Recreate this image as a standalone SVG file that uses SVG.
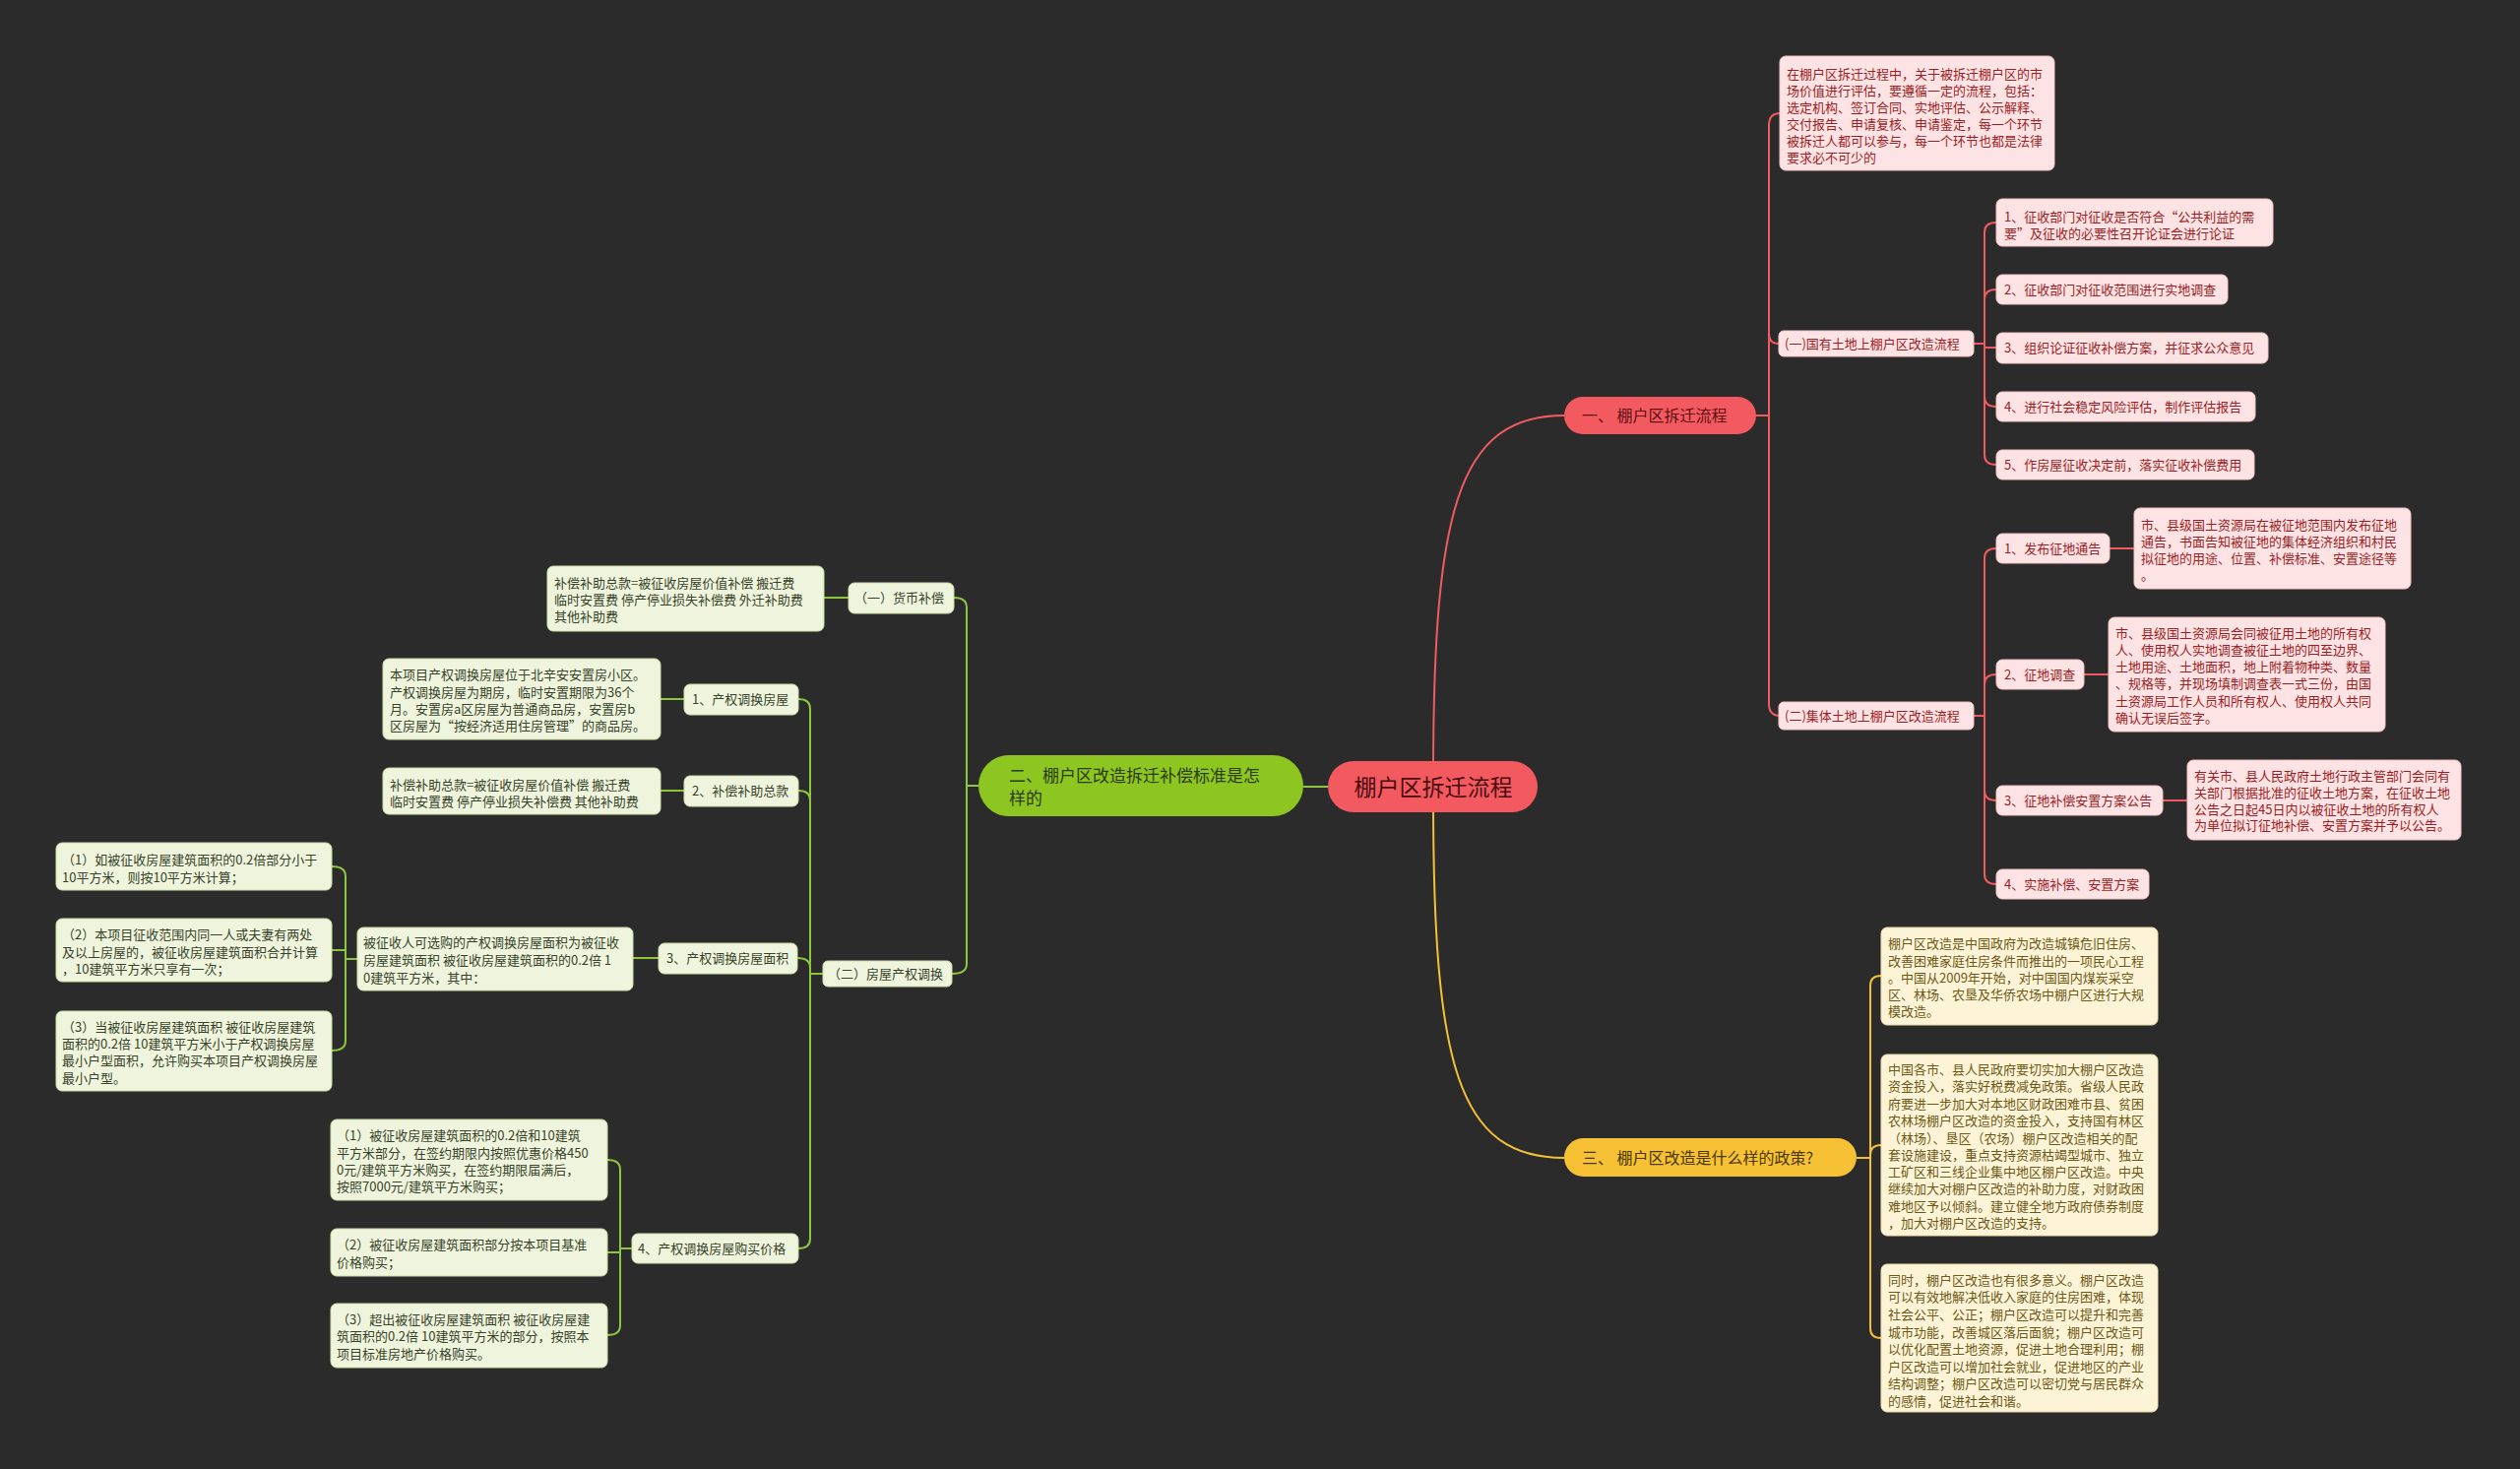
<svg xmlns="http://www.w3.org/2000/svg" width="2560" height="1492" viewBox="0 0 2560 1492">
<style>
text{font-family:"Noto Sans CJK SC","Noto Sans",sans-serif;font-size:13px}
.bg{fill:#2b2b2b}
.pk rect{fill:#fde3e3;stroke:#f3c4c6;stroke-width:1}
.pk text{fill:#9e1d24}
.gr rect{fill:#eef5dc;stroke:#cfe0a8;stroke-width:1}
.gr text{fill:#38422a}
.yl rect{fill:#fdf4d7;stroke:#ecdca8;stroke-width:1}
.yl text{fill:#6d5816}
.cr{fill:none;stroke:#ef5b61;stroke-width:2}
.cg{fill:none;stroke:#8dc63f;stroke-width:2}
.cy{fill:none;stroke:#f4c134;stroke-width:2}
.main text{font-size:16px}
</style>
<rect class="bg" x="0" y="0" width="2560" height="1492"/>

<g id="connectors">
  <!-- root -->
  <path class="cr" d="M1456,790 C1456,520 1480,422 1589,422" stroke-width="2.5"/>
  <path class="cy" d="M1456,810 C1456,1080 1480,1176 1589,1176" stroke-width="2.5"/>
  <path class="cg" d="M1349,799 H1324" stroke-width="2.5"/>
  <!-- 一 -->
  <path class="cr" d="M1784,422 H1797 V127 Q1797,115 1809,115"/>
  <path class="cr" d="M1784,422 H1797 V339 Q1797,349 1807,349"/>
  <path class="cr" d="M1784,422 H1797 V715 Q1797,727 1809,727"/>
  <!-- (一) -->
  <path class="cr" d="M2005,349 H2016 V236 Q2016,226 2028,226"/>
  <path class="cr" d="M2005,349 H2016 V304 Q2016,294 2028,294"/>
  <path class="cr" d="M2005,349 H2016 V353 H2028"/>
  <path class="cr" d="M2005,349 H2016 V403 Q2016,413 2028,413"/>
  <path class="cr" d="M2005,349 H2016 V462 Q2016,472 2028,472"/>
  <!-- (二) -->
  <path class="cr" d="M2005,727 H2016 V567 Q2016,557 2028,557"/>
  <path class="cr" d="M2005,727 H2016 V695 Q2016,685 2028,685"/>
  <path class="cr" d="M2005,727 H2016 V803 Q2016,813 2028,813"/>
  <path class="cr" d="M2005,727 H2016 V888 Q2016,898 2028,898"/>
  <path class="cr" d="M2143,557 H2168"/>
  <path class="cr" d="M2117,685 H2142"/>
  <path class="cr" d="M2197,813 H2222"/>
  <!-- 三 -->
  <path class="cy" d="M1886,1176 H1900 V1001 Q1900,991 1911,991"/>
  <path class="cy" d="M1886,1176 H1900 V1173 Q1900,1163 1911,1163"/>
  <path class="cy" d="M1886,1176 H1900 V1349 Q1900,1359 1911,1359"/>
  <!-- 二 -->
  <path class="cg" d="M994,798 H982 V617 Q982,607 969,607"/>
  <path class="cg" d="M994,798 H982 V979 Q982,989 967,989"/>
  <path class="cg" d="M862,607 H837"/>
  <path class="cg" d="M836,989 H823 V720 Q823,710 811,710"/>
  <path class="cg" d="M836,989 H823 V813 Q823,803 811,803"/>
  <path class="cg" d="M836,989 H823 V983 Q823,973 810,973"/>
  <path class="cg" d="M836,989 H823 V1258 Q823,1268 811,1268"/>
  <path class="cg" d="M695,710 H671"/>
  <path class="cg" d="M695,803 H671"/>
  <path class="cg" d="M669,973 H643"/>
  <path class="cg" d="M363,974 H351 V890 Q351,880 337,880"/>
  <path class="cg" d="M363,974 H351 V965 H337"/>
  <path class="cg" d="M363,974 H351 V1057 Q351,1067 337,1067"/>
  <path class="cg" d="M642,1268 H630 V1188 Q630,1178 617,1178"/>
  <path class="cg" d="M642,1268 H630 V1272 H617"/>
  <path class="cg" d="M642,1268 H630 V1346 Q630,1356 617,1356"/>
</g>

<g id="root">
  <rect x="1349" y="773" width="213" height="52" rx="26" fill="#f35a60"/>
  <text x="1456" y="808" text-anchor="middle" style="font-size:23px" fill="#4a0c10">棚户区拆迁流程</text>
</g>

<g id="n1" class="main">
  <rect x="1589" y="403" width="195" height="38" rx="19" fill="#f35a60"/>
  <text x="1607" y="428" fill="#5e1015">一、 棚户区拆迁流程</text>
</g>
<g id="n2" class="main">
  <rect x="994" y="767" width="330" height="62" rx="31" fill="#8dc621"/>
  <text x="1025" y="794" style="font-size:17px" fill="#2c3a0c"><tspan>二、棚户区改造拆迁补偿标准是怎</tspan><tspan x="1025" y="817">样的</tspan></text>
</g>
<g id="n3" class="main">
  <rect x="1589" y="1156" width="297" height="39" rx="19.5" fill="#f6c135"/>
  <text x="1607" y="1182" fill="#4a3800">三、 棚户区改造是什么样的政策?</text>
</g>

<!-- right red branch -->
<g id="r-intro" class="pk">
  <rect x="1808" y="57" width="279" height="116" rx="6"/>
  <text x="1815" y="80"><tspan>在棚户区拆迁过程中，关于被拆迁棚户区的市</tspan><tspan x="1815" y="97">场价值进行评估，要遵循一定的流程，包括：</tspan><tspan x="1815" y="114">选定机构、签订合同、实地评估、公示解释、</tspan><tspan x="1815" y="131">交付报告、申请复核、申请鉴定，每一个环节</tspan><tspan x="1815" y="148">被拆迁人都可以参与，每一个环节也都是法律</tspan><tspan x="1815" y="165">要求必不可少的</tspan></text>
</g>
<g id="r-a" class="pk">
  <rect x="1807" y="336" width="198" height="26" rx="5"/>
  <text x="1813" y="354">(一)国有土地上棚户区改造流程</text>
</g>
<g id="r-a1" class="pk">
  <rect x="2028" y="202" width="281" height="48" rx="6"/>
  <text x="2036" y="225"><tspan>1、征收部门对征收是否符合“公共利益的需</tspan><tspan x="2036" y="242">要”及征收的必要性召开论证会进行论证</tspan></text>
</g>
<g id="r-a2" class="pk">
  <rect x="2028" y="279" width="235" height="30" rx="6"/>
  <text x="2036" y="299">2、征收部门对征收范围进行实地调查</text>
</g>
<g id="r-a3" class="pk">
  <rect x="2028" y="338" width="276" height="31" rx="6"/>
  <text x="2036" y="358">3、组织论证征收补偿方案，并征求公众意见</text>
</g>
<g id="r-a4" class="pk">
  <rect x="2028" y="398" width="263" height="30" rx="6"/>
  <text x="2036" y="418">4、进行社会稳定风险评估，制作评估报告</text>
</g>
<g id="r-a5" class="pk">
  <rect x="2028" y="457" width="262" height="30" rx="6"/>
  <text x="2036" y="477">5、作房屋征收决定前，落实征收补偿费用</text>
</g>
<g id="r-b" class="pk">
  <rect x="1807" y="713" width="198" height="28" rx="5"/>
  <text x="1813" y="732">(二)集体土地上棚户区改造流程</text>
</g>
<g id="r-b1" class="pk">
  <rect x="2028" y="542" width="115" height="30" rx="6"/>
  <text x="2036" y="562">1、发布征地通告</text>
</g>
<g id="r-b1t" class="pk">
  <rect x="2168" y="516" width="281" height="82" rx="6"/>
  <text x="2175" y="538"><tspan>市、县级国土资源局在被征地范围内发布征地</tspan><tspan x="2175" y="555">通告，书面告知被征地的集体经济组织和村民</tspan><tspan x="2175" y="572">拟征地的用途、位置、补偿标准、安置途径等</tspan><tspan x="2175" y="589">。</tspan></text>
</g>
<g id="r-b2" class="pk">
  <rect x="2028" y="670" width="89" height="30" rx="6"/>
  <text x="2036" y="690">2、征地调查</text>
</g>
<g id="r-b2t" class="pk">
  <rect x="2142" y="627" width="281" height="116" rx="6"/>
  <text x="2149" y="648"><tspan>市、县级国土资源局会同被征用土地的所有权</tspan><tspan x="2149" y="665">人、使用权人实地调查被征土地的四至边界、</tspan><tspan x="2149" y="682">土地用途、土地面积，地上附着物种类、数量</tspan><tspan x="2149" y="699">、规格等，并现场填制调查表一式三份，由国</tspan><tspan x="2149" y="717">土资源局工作人员和所有权人、使用权人共同</tspan><tspan x="2149" y="734">确认无误后签字。</tspan></text>
</g>
<g id="r-b3" class="pk">
  <rect x="2028" y="798" width="169" height="30" rx="6"/>
  <text x="2036" y="818">3、征地补偿安置方案公告</text>
</g>
<g id="r-b3t" class="pk">
  <rect x="2222" y="772" width="278" height="81" rx="6"/>
  <text x="2229" y="793"><tspan>有关市、县人民政府土地行政主管部门会同有</tspan><tspan x="2229" y="810">关部门根据批准的征收土地方案，在征收土地</tspan><tspan x="2229" y="827">公告之日起45日内以被征收土地的所有权人</tspan><tspan x="2229" y="843">为单位拟订征地补偿、安置方案并予以公告。</tspan></text>
</g>
<g id="r-b4" class="pk">
  <rect x="2028" y="883" width="155" height="30" rx="6"/>
  <text x="2036" y="903">4、实施补偿、安置方案</text>
</g>

<!-- yellow branch -->
<g id="y1" class="yl">
  <rect x="1911" y="942" width="281" height="99" rx="6"/>
  <text x="1918" y="963"><tspan>棚户区改造是中国政府为改造城镇危旧住房、</tspan><tspan x="1918" y="981">改善困难家庭住房条件而推出的一项民心工程</tspan><tspan x="1918" y="998">。中国从2009年开始，对中国国内煤炭采空</tspan><tspan x="1918" y="1015">区、林场、农垦及华侨农场中棚户区进行大规</tspan><tspan x="1918" y="1032">模改造。</tspan></text>
</g>
<g id="y2" class="yl">
  <rect x="1911" y="1071" width="281" height="184" rx="6"/>
  <text x="1918" y="1091"><tspan>中国各市、县人民政府要切实加大棚户区改造</tspan><tspan x="1918" y="1108">资金投入，落实好税费减免政策。省级人民政</tspan><tspan x="1918" y="1126">府要进一步加大对本地区财政困难市县、贫困</tspan><tspan x="1918" y="1143">农林场棚户区改造的资金投入，支持国有林区</tspan><tspan x="1918" y="1161">（林场）、垦区（农场）棚户区改造相关的配</tspan><tspan x="1918" y="1178">套设施建设，重点支持资源枯竭型城市、独立</tspan><tspan x="1918" y="1195">工矿区和三线企业集中地区棚户区改造。中央</tspan><tspan x="1918" y="1212">继续加大对棚户区改造的补助力度，对财政困</tspan><tspan x="1918" y="1230">难地区予以倾斜。建立健全地方政府债券制度</tspan><tspan x="1918" y="1247">，加大对棚户区改造的支持。</tspan></text>
</g>
<g id="y3" class="yl">
  <rect x="1911" y="1284" width="281" height="150" rx="6"/>
  <text x="1918" y="1305"><tspan>同时，棚户区改造也有很多意义。棚户区改造</tspan><tspan x="1918" y="1322">可以有效地解决低收入家庭的住房困难，体现</tspan><tspan x="1918" y="1340">社会公平、公正；棚户区改造可以提升和完善</tspan><tspan x="1918" y="1358">城市功能，改善城区落后面貌；棚户区改造可</tspan><tspan x="1918" y="1375">以优化配置土地资源，促进土地合理利用；棚</tspan><tspan x="1918" y="1393">户区改造可以增加社会就业，促进地区的产业</tspan><tspan x="1918" y="1410">结构调整；棚户区改造可以密切党与居民群众</tspan><tspan x="1918" y="1428">的感情，促进社会和谐。</tspan></text>
</g>

<!-- green branch -->
<g id="g-a" class="gr">
  <rect x="862" y="592" width="107" height="31" rx="6"/>
  <text x="868" y="612">（一）货币补偿</text>
</g>
<g id="g-at" class="gr">
  <rect x="556" y="575" width="281" height="66" rx="6"/>
  <text x="563" y="597"><tspan>补偿补助总款=被征收房屋价值补偿 搬迁费</tspan><tspan x="563" y="614">临时安置费 停产停业损失补偿费 外迁补助费</tspan><tspan x="563" y="631">其他补助费</tspan></text>
</g>
<g id="g-b" class="gr">
  <rect x="836" y="976" width="131" height="26" rx="5"/>
  <text x="841" y="994">（二）房屋产权调换</text>
</g>
<g id="g-b1" class="gr">
  <rect x="695" y="695" width="116" height="31" rx="6"/>
  <text x="703" y="715">1、产权调换房屋</text>
</g>
<g id="g-b1t" class="gr">
  <rect x="389" y="669" width="282" height="82" rx="6"/>
  <text x="396" y="690"><tspan>本项目产权调换房屋位于北辛安安置房小区。</tspan><tspan x="396" y="708">产权调换房屋为期房，临时安置期限为36个</tspan><tspan x="396" y="725">月。安置房a区房屋为普通商品房，安置房b</tspan><tspan x="396" y="742">区房屋为“按经济适用住房管理”的商品房。</tspan></text>
</g>
<g id="g-b2" class="gr">
  <rect x="695" y="788" width="116" height="31" rx="6"/>
  <text x="703" y="808">2、补偿补助总款</text>
</g>
<g id="g-b2t" class="gr">
  <rect x="389" y="780" width="282" height="47" rx="6"/>
  <text x="396" y="802"><tspan>补偿补助总款=被征收房屋价值补偿 搬迁费</tspan><tspan x="396" y="819">临时安置费 停产停业损失补偿费 其他补助费</tspan></text>
</g>
<g id="g-b3" class="gr">
  <rect x="669" y="958" width="141" height="31" rx="6"/>
  <text x="677" y="978">3、产权调换房屋面积</text>
</g>
<g id="g-b3t" class="gr">
  <rect x="363" y="942" width="280" height="64" rx="6"/>
  <text x="369" y="962"><tspan>被征收人可选购的产权调换房屋面积为被征收</tspan><tspan x="369" y="980">房屋建筑面积 被征收房屋建筑面积的0.2倍 1</tspan><tspan x="369" y="998">0建筑平方米，其中：</tspan></text>
</g>
<g id="g-b3a" class="gr">
  <rect x="57" y="856" width="280" height="48" rx="6"/>
  <text x="63" y="878"><tspan>（1）如被征收房屋建筑面积的0.2倍部分小于</tspan><tspan x="63" y="896">10平方米，则按10平方米计算；</tspan></text>
</g>
<g id="g-b3b" class="gr">
  <rect x="57" y="933" width="280" height="64" rx="6"/>
  <text x="63" y="954"><tspan>（2）本项目征收范围内同一人或夫妻有两处</tspan><tspan x="63" y="972">及以上房屋的，被征收房屋建筑面积合并计算</tspan><tspan x="63" y="989">，10建筑平方米只享有一次；</tspan></text>
</g>
<g id="g-b3c" class="gr">
  <rect x="57" y="1027" width="280" height="81" rx="6"/>
  <text x="63" y="1048"><tspan>（3）当被征收房屋建筑面积 被征收房屋建筑</tspan><tspan x="63" y="1065">面积的0.2倍 10建筑平方米小于产权调换房屋</tspan><tspan x="63" y="1082">最小户型面积，允许购买本项目产权调换房屋</tspan><tspan x="63" y="1100">最小户型。</tspan></text>
</g>
<g id="g-b4" class="gr">
  <rect x="642" y="1253" width="169" height="30" rx="6"/>
  <text x="648" y="1273">4、产权调换房屋购买价格</text>
</g>
<g id="g-b4a" class="gr">
  <rect x="336" y="1137" width="281" height="82" rx="6"/>
  <text x="342" y="1158"><tspan>（1）被征收房屋建筑面积的0.2倍和10建筑</tspan><tspan x="342" y="1176">平方米部分，在签约期限内按照优惠价格450</tspan><tspan x="342" y="1193">0元/建筑平方米购买，在签约期限届满后，</tspan><tspan x="342" y="1210">按照7000元/建筑平方米购买；</tspan></text>
</g>
<g id="g-b4b" class="gr">
  <rect x="336" y="1248" width="281" height="48" rx="6"/>
  <text x="342" y="1269"><tspan>（2）被征收房屋建筑面积部分按本项目基准</tspan><tspan x="342" y="1287">价格购买；</tspan></text>
</g>
<g id="g-b4c" class="gr">
  <rect x="336" y="1324" width="281" height="65" rx="6"/>
  <text x="342" y="1345"><tspan>（3）超出被征收房屋建筑面积 被征收房屋建</tspan><tspan x="342" y="1362">筑面积的0.2倍 10建筑平方米的部分，按照本</tspan><tspan x="342" y="1380">项目标准房地产价格购买。</tspan></text>
</g>
</svg>
